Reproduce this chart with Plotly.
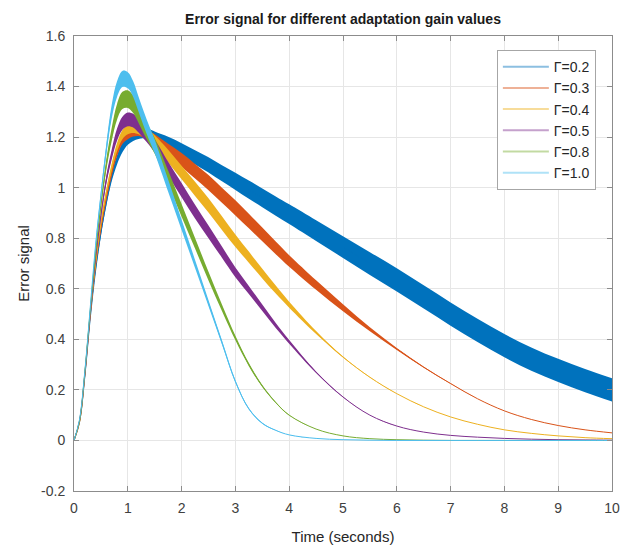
import plotly.graph_objects as go
import numpy as np

# Time samples (seconds)
T = [0, 0.1, 0.2, 0.3, 0.4, 0.5, 0.6, 0.7, 0.8, 0.9, 1.0, 1.1, 1.2, 1.3, 1.4, 1.5,
     1.75, 2.0, 2.25, 2.5, 2.75, 3.0, 3.25, 3.5, 3.75, 4.0, 4.5, 5.0, 5.5, 6.0,
     6.5, 7.0, 7.5, 8.0, 8.5, 9.0, 9.5, 10.0]

labels = ["Γ=0.2", "Γ=0.3", "Γ=0.4", "Γ=0.5", "Γ=0.8", "Γ=1.0"]
colors = ["#0072BD", "#D95319", "#EDB120", "#7E2F8E", "#77AC30", "#4DBEEE"]
legend_colors = ["rgba(0,114,189,0.45)", "rgba(217,83,25,0.45)", "rgba(237,177,32,0.45)",
                 "rgba(126,47,142,0.45)", "rgba(119,172,48,0.45)", "rgba(77,190,238,0.45)"]

# Centre of each error-signal band
g02 = [0, 0.07, 0.25, 0.48, 0.67, 0.82, 0.94, 1.04, 1.11, 1.16, 1.19, 1.205, 1.213, 1.215, 1.21, 1.2,
       1.177, 1.15, 1.12, 1.09, 1.057, 1.025, 0.992, 0.96, 0.927, 0.895, 0.83, 0.765, 0.70, 0.635,
       0.568, 0.50, 0.435, 0.375, 0.322, 0.277, 0.237, 0.2]
g03 = [0, 0.07, 0.255, 0.49, 0.69, 0.84, 0.96, 1.06, 1.14, 1.19, 1.21, 1.22, 1.222, 1.215, 1.205, 1.19,
       1.15, 1.11, 1.065, 1.02, 0.97, 0.92, 0.868, 0.815, 0.762, 0.71, 0.615, 0.525, 0.44, 0.362,
       0.29, 0.225, 0.165, 0.117, 0.083, 0.059, 0.042, 0.03]
g04 = [0, 0.07, 0.26, 0.5, 0.70, 0.86, 0.98, 1.08, 1.16, 1.21, 1.23, 1.235, 1.23, 1.22, 1.205, 1.185,
       1.125, 1.06, 0.995, 0.93, 0.86, 0.79, 0.725, 0.66, 0.597, 0.537, 0.427, 0.33, 0.25, 0.185,
       0.133, 0.093, 0.064, 0.042, 0.028, 0.018, 0.011, 0.007]
g05 = [0, 0.075, 0.26, 0.5, 0.72, 0.89, 1.03, 1.13, 1.21, 1.255, 1.27, 1.265, 1.245, 1.22, 1.195, 1.165,
       1.075, 0.99, 0.905, 0.825, 0.745, 0.665, 0.595, 0.525, 0.455, 0.39, 0.27, 0.172, 0.1, 0.057,
       0.033, 0.02, 0.013, 0.008, 0.005, 0.003, 0.002, 0.001]
g08 = [0, 0.075, 0.265, 0.51, 0.74, 0.93, 1.09, 1.21, 1.30, 1.345, 1.35, 1.33, 1.29, 1.245, 1.205, 1.165,
       1.04, 0.91, 0.78, 0.65, 0.525, 0.405, 0.30, 0.215, 0.15, 0.10, 0.045, 0.018, 0.007, 0.003,
       0.001, 0, 0, 0, 0, 0, 0, 0]
g10 = [0, 0.08, 0.27, 0.52, 0.77, 0.97, 1.15, 1.30, 1.39, 1.43, 1.425, 1.39, 1.33, 1.27, 1.215, 1.163,
       1.008, 0.853, 0.698, 0.543, 0.388, 0.233, 0.125, 0.068, 0.04, 0.022, 0.008, 0.003, 0.001, 0,
       0, 0, 0, 0, 0, 0, 0, 0]

# Half thickness of the oscillation band around each centre
w02 = [0, 0, 0.002, 0.004, 0.006, 0.01, 0.013, 0.016, 0.018, 0.02, 0.02, 0.02, 0.02, 0.02, 0.021, 0.022,
       0.024, 0.026, 0.028, 0.03, 0.032, 0.034, 0.036, 0.037, 0.038, 0.039, 0.041, 0.043, 0.045, 0.046,
       0.046, 0.046, 0.046, 0.046, 0.046, 0.046, 0.046, 0.046]
w03 = [0, 0, 0.002, 0.004, 0.007, 0.01, 0.013, 0.015, 0.016, 0.017, 0.018, 0.018, 0.018, 0.019, 0.02, 0.021,
       0.024, 0.027, 0.029, 0.03, 0.03, 0.03, 0.029, 0.027, 0.025, 0.023, 0.019, 0.014, 0.008, 0.004,
       0.002, 0.001, 0, 0, 0, 0, 0, 0]
w04 = [0, 0, 0.002, 0.004, 0.007, 0.01, 0.013, 0.015, 0.017, 0.018, 0.019, 0.019, 0.019, 0.02, 0.021, 0.022,
       0.025, 0.027, 0.028, 0.028, 0.027, 0.025, 0.022, 0.019, 0.016, 0.012, 0.006, 0.002, 0.001, 0,
       0, 0, 0, 0, 0, 0, 0, 0]
w05 = [0, 0, 0.002, 0.005, 0.008, 0.012, 0.016, 0.02, 0.024, 0.026, 0.027, 0.027, 0.027, 0.027, 0.027, 0.027,
       0.028, 0.028, 0.027, 0.025, 0.022, 0.019, 0.016, 0.013, 0.01, 0.007, 0.003, 0.001, 0, 0,
       0, 0, 0, 0, 0, 0, 0, 0]
w08 = [0, 0, 0.002, 0.005, 0.009, 0.014, 0.02, 0.026, 0.031, 0.034, 0.035, 0.035, 0.034, 0.033, 0.032, 0.031,
       0.028, 0.025, 0.021, 0.017, 0.013, 0.009, 0.006, 0.004, 0.002, 0.001, 0, 0, 0, 0,
       0, 0, 0, 0, 0, 0, 0, 0]
w10 = [0, 0, 0.002, 0.005, 0.01, 0.015, 0.021, 0.027, 0.031, 0.032, 0.032, 0.031, 0.03, 0.029, 0.028, 0.027,
       0.024, 0.02, 0.016, 0.012, 0.008, 0.005, 0.003, 0.002, 0.001, 0, 0, 0, 0, 0,
       0, 0, 0, 0, 0, 0, 0, 0]

centres = [g02, g03, g04, g05, g08, g10]
widths = [w02, w03, w04, w05, w08, w10]

fig = go.Figure()
for lab, col, lcol, c, w in zip(labels, colors, legend_colors, centres, widths):
    c = np.array(c)
    w = np.array(w)
    fig.add_trace(go.Scatter(x=T, y=c + w, mode="lines", line=dict(color=col, width=0, shape="spline"),
                             showlegend=False, hoverinfo="skip"))
    fig.add_trace(go.Scatter(x=T, y=c - w, mode="lines", line=dict(color=col, width=0, shape="spline"),
                             fill="tonexty", fillcolor=col, showlegend=False, hoverinfo="skip"))
    fig.add_trace(go.Scatter(x=T, y=c, mode="lines", line=dict(color=col, width=1, shape="spline"),
                             showlegend=False, name=lab))
    fig.add_trace(go.Scatter(x=[None], y=[None], mode="lines", line=dict(color=lcol, width=2),
                             name=lab, showlegend=True))

font_family = "Liberation Sans, Arial, Helvetica, sans-serif"
axis_common = dict(
    showline=True, linecolor="#8c8c8c", linewidth=1, mirror="ticks",
    ticks="inside", ticklen=5, tickcolor="#8c8c8c",
    showgrid=True, gridcolor="#e6e6e6", gridwidth=1, zeroline=False,
    tickfont=dict(family=font_family, size=14, color="#404040"),
    automargin=False,
)

fig.update_layout(
    width=629, height=547,
    margin=dict(l=74, r=17, t=36, b=56, autoexpand=False),
    paper_bgcolor="white", plot_bgcolor="white",
    title=dict(text="<b>Error signal for different adaptation gain values</b>",
               x=0.5, xanchor="center", xref="paper", y=0.965, yref="container", yanchor="middle",
               font=dict(family=font_family, size=14, color="#1a1a1a")),
    xaxis=dict(range=[0, 10], tickvals=list(range(0, 11)), ticklabelstandoff=4,
               title=dict(text="Time (seconds)", font=dict(family=font_family, size=15, color="#262626"),
                          standoff=16),
               **axis_common),
    yaxis=dict(range=[-0.2, 1.6], tickvals=[-0.2, 0, 0.2, 0.4, 0.6, 0.8, 1.0, 1.2, 1.4, 1.6],
               ticktext=["-0.2", "0", "0.2", "0.4", "0.6", "0.8", "1", "1.2", "1.4", "1.6"],
               ticklabelstandoff=5,
               title=dict(text="Error signal", font=dict(family=font_family, size=15, color="#262626"),
                          standoff=7),
               **axis_common),
    legend=dict(x=0.786, y=0.969, xanchor="left", yanchor="top", traceorder="normal",
                bgcolor="white", bordercolor="#a6a6a6", borderwidth=1,
                font=dict(family=font_family, size=14, color="#262626"),
                itemwidth=46, tracegroupgap=0),
    showlegend=True,
)

fig.write_html("out.html", config={"displayModeBar": False},
               post_script="document.body.style.margin='0';")
